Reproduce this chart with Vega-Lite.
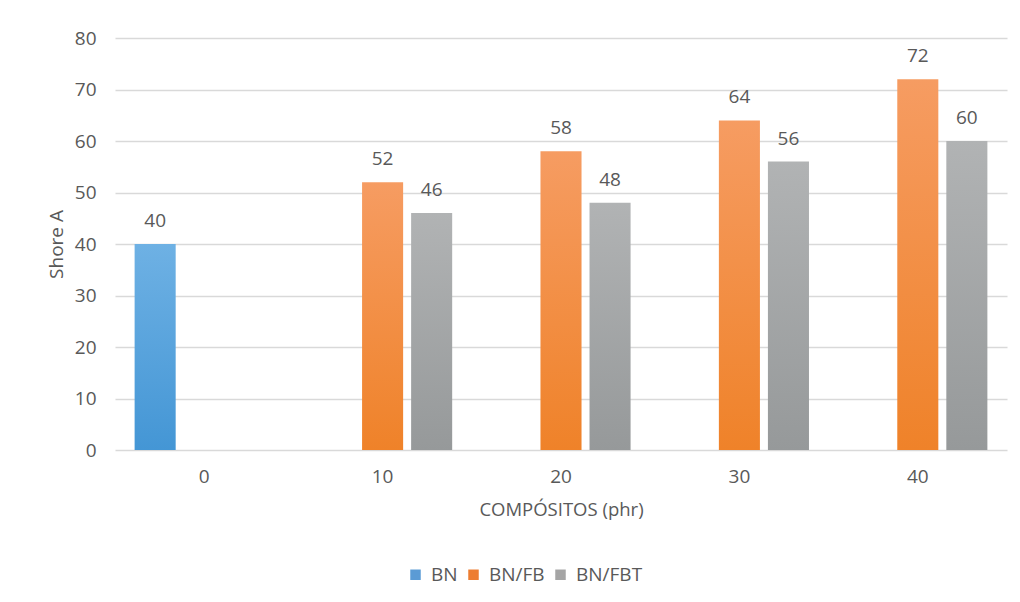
{
  "$schema": "https://vega.github.io/schema/vega-lite/v6.json",
  "width": 892,
  "height": 412,
  "autosize": {"type": "none"},
  "padding": {"left": 115, "top": 38, "right": 13, "bottom": 152},
  "background": "white",
  "config": {
    "view": {"stroke": null},
    "font": "Open Sans",
    "axis": {"labelColor": "#595959", "titleColor": "#595959", "labelFontWeight": "normal", "titleFontWeight": "normal"}
  },
  "data": {
    "values": [
      {"phr": "0", "serie": "BN", "shore": 40},
      {"phr": "10", "serie": "BN/FB", "shore": 52},
      {"phr": "10", "serie": "BN/FBT", "shore": 46},
      {"phr": "20", "serie": "BN/FB", "shore": 58},
      {"phr": "20", "serie": "BN/FBT", "shore": 48},
      {"phr": "30", "serie": "BN/FB", "shore": 64},
      {"phr": "30", "serie": "BN/FBT", "shore": 56},
      {"phr": "40", "serie": "BN/FB", "shore": 72},
      {"phr": "40", "serie": "BN/FBT", "shore": 60}
    ]
  },
  "encoding": {
    "x": {
      "field": "phr",
      "type": "nominal",
      "sort": ["0", "10", "20", "30", "40"],
      "scale": {"paddingInner": 0, "paddingOuter": 0},
      "title": "COMPÓSITOS (phr)",
      "axis": {
        "domain": false,
        "ticks": false,
        "labelAngle": 0,
        "labelFontSize": 19,
        "labelPadding": 17,
        "titleFontSize": 18.5,
        "titlePadding": 14
      }
    },
    "xOffset": {
      "field": "serie",
      "type": "nominal",
      "scale": {"domain": ["BN", "BN/FB", "BN/FBT"], "paddingInner": 0.163, "paddingOuter": 0.4}
    },
    "y": {
      "field": "shore",
      "type": "quantitative",
      "scale": {"domain": [0, 80]},
      "title": "Shore A",
      "axis": {
        "values": [0, 10, 20, 30, 40, 50, 60, 70, 80],
        "domain": false,
        "ticks": false,
        "gridColor": "#d9d9d9",
        "gridWidth": 1.5,
        "labelFontSize": 19,
        "labelPadding": 19,
        "titleFontSize": 19,
        "titlePadding": 8
      }
    }
  },
  "layer": [
    {
      "mark": {"type": "bar", "opacity": 0},
      "encoding": {
        "color": {
          "field": "serie",
          "type": "nominal",
          "scale": {"domain": ["BN", "BN/FB", "BN/FBT"], "range": ["#5B9BD5", "#ED7D31", "#A5A5A5"]},
          "legend": {
            "title": null,
            "orient": "none",
            "legendX": 291,
            "legendY": 527,
            "direction": "horizontal",
            "symbolType": "square",
            "symbolSize": 110,
            "symbolOpacity": 1,
            "symbolStrokeWidth": 0,
            "labelFontSize": 19,
            "labelColor": "#595959",
            "labelOffset": 6,
            "columnPadding": 6
          }
        }
      }
    },
    {
      "mark": {"type": "bar"},
      "encoding": {
        "fill": {
          "condition": [
            {
              "test": "datum.serie === 'BN'",
              "value": {"gradient": "linear", "x1": 0, "y1": 0, "x2": 0, "y2": 1,
                "stops": [{"offset": 0, "color": "#6EB1E4"}, {"offset": 1, "color": "#4496D5"}]}
            },
            {
              "test": "datum.serie === 'BN/FB'",
              "value": {"gradient": "linear", "x1": 0, "y1": 0, "x2": 0, "y2": 1,
                "stops": [{"offset": 0, "color": "#F69C62"}, {"offset": 1, "color": "#EF8229"}]}
            }
          ],
          "value": {"gradient": "linear", "x1": 0, "y1": 0, "x2": 0, "y2": 1,
            "stops": [{"offset": 0, "color": "#B1B3B4"}, {"offset": 1, "color": "#96999A"}]}
        }
      }
    },
    {
      "mark": {"type": "text", "baseline": "middle", "dy": -23, "fontSize": 19, "color": "#595959"},
      "encoding": {"text": {"field": "shore", "type": "quantitative"}}
    }
  ]
}
